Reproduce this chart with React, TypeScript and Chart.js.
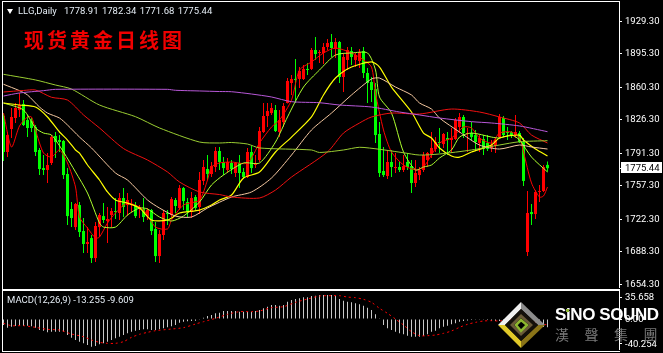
import React, { useEffect, useRef } from "react";
import { Chart, registerables } from "chart.js";

Chart.register(...registerables);

const candleOpen = [
  1830, 1792.4, 1816.4, 1827.9, 1836.3, 1842.6, 1825.8, 1824.8, 1818.5, 1794.5,
  1775.6, 1773.6, 1780.9, 1809.1, 1804.9, 1803.9, 1769.4, 1732.8, 1713.9, 1736.9,
  1709.8, 1696.2, 1702.4, 1681.5, 1713.9, 1725.4, 1720.2, 1726.5, 1730.7, 1728.6,
  1744.3, 1736.9, 1736.9, 1736.9, 1732.8, 1732.8, 1725.4, 1731.7, 1711.9, 1683.6,
  1705.6, 1728.6, 1726.5, 1742.2, 1733.8, 1754.7, 1740.1, 1729.6, 1745.3, 1734.9,
  1762.1, 1774.6, 1769.4, 1776.7, 1793.4, 1781.9, 1773.6, 1780.9, 1770.4, 1780.9,
  1771.5, 1766.2, 1792.4, 1778.8, 1784, 1813.3, 1830, 1833.1, 1836.3, 1813.3,
  1823.7, 1843.6, 1864.5, 1868.7, 1868.7, 1868.7, 1879.2, 1879.2, 1899, 1895.9,
  1895.9, 1902.2, 1907.4, 1900.1, 1907.4, 1870.8, 1888.6, 1898, 1888.6, 1887.5,
  1898, 1875, 1865.6, 1858.2, 1811.2, 1772.5, 1767.3, 1781.9, 1775.6, 1776.7,
  1773.6, 1781.9, 1777.7, 1760, 1768.3, 1773.6, 1784, 1790.3, 1795.5, 1802.8,
  1800.7, 1807, 1804.9, 1806, 1818.5, 1829, 1811.2, 1812.2, 1810.1, 1801.8,
  1806, 1801.8, 1796.6, 1798.6, 1808, 1827.9, 1813.3, 1813.3, 1810.1, 1812.2,
  1802.8, 1687.8, 1729.6, 1727.5, 1750.6, 1751.6, 1778.91,
];
const candleClose = [
  1792.4, 1810.1, 1829, 1838.4, 1841.5, 1820.6, 1817.5, 1817.5, 1792.4, 1774.6,
  1773.6, 1778.8, 1808, 1802.8, 1802.8, 1768.3, 1725.4, 1723.4, 1738, 1708.7,
  1696.2, 1698.3, 1681.5, 1715, 1726.5, 1721.3, 1722.3, 1730.7, 1729.6, 1744.3,
  1734.9, 1742.2, 1738, 1725.4, 1734.9, 1724.4, 1731.7, 1709.8, 1683.6, 1706.6,
  1728.6, 1727.5, 1743.2, 1735.9, 1754.7, 1741.1, 1729.6, 1744.3, 1733.8, 1763.1,
  1776.7, 1769.4, 1777.7, 1793.4, 1781.9, 1775.6, 1781.9, 1774.6, 1780.9, 1770.4,
  1766.2, 1792.4, 1775.6, 1780.9, 1814.3, 1830, 1835.2, 1838.4, 1814.3, 1825.8,
  1840.5, 1866.6, 1868.7, 1867.7, 1877.1, 1879.2, 1878.1, 1899, 1894.8, 1896.9,
  1902.2, 1906.3, 1901.1, 1907.4, 1870.8, 1891.7, 1899, 1891.7, 1893.8, 1896.9,
  1875, 1864.5, 1857.2, 1810.1, 1770.4, 1768.3, 1781.9, 1776.7, 1776.7, 1773.6,
  1777.7, 1776.7, 1760, 1770.4, 1773.6, 1789.2, 1791.3, 1796.6, 1802.8, 1801.8,
  1811.2, 1804.9, 1807, 1825.8, 1829, 1812.2, 1812.2, 1808, 1802.8, 1807,
  1795.5, 1795.5, 1799.7, 1804.9, 1829, 1810.1, 1812.2, 1809.1, 1813.3, 1802.8,
  1762.1, 1728.6, 1727.5, 1750.6, 1751.6, 1776.7, 1775.44,
];
const candleHigh = [
  1833.1, 1813.3, 1838.4, 1843.6, 1854.1, 1846.7, 1831.1, 1827.9, 1820.6, 1796.6,
  1789.2, 1791.3, 1810.1, 1813.3, 1810.1, 1804.9, 1775.6, 1740.1, 1739, 1740.1,
  1723.4, 1713.9, 1705.6, 1719.2, 1728.6, 1739, 1734.9, 1733.8, 1744.3, 1749.5,
  1754.7, 1749.5, 1743.2, 1740.1, 1736.9, 1744.3, 1733.8, 1732.8, 1719.2, 1710.8,
  1731.7, 1731.7, 1745.3, 1744.3, 1757.9, 1755.8, 1744.3, 1750.6, 1747.4, 1771.5,
  1784, 1789.2, 1781.9, 1797.6, 1797.6, 1787.1, 1786.1, 1784, 1781.9, 1789.2,
  1775.6, 1796.6, 1798.6, 1789.2, 1818.5, 1843.6, 1843.6, 1843.6, 1841.5, 1836.3,
  1843.6, 1869.7, 1872.9, 1889.6, 1881.2, 1883.3, 1885.4, 1901.1, 1912.6, 1899,
  1906.3, 1910.5, 1915.7, 1911.6, 1908.4, 1895.9, 1902.2, 1902.2, 1895.9, 1900.1,
  1902.2, 1880.2, 1870.8, 1864.5, 1823.7, 1797.6, 1794.5, 1794.5, 1791.3, 1781.9,
  1789.2, 1791.3, 1784, 1784, 1776.7, 1792.4, 1792.4, 1813.3, 1808, 1817.5,
  1812.2, 1813.3, 1817.5, 1827.9, 1833.1, 1831.1, 1817.5, 1823.7, 1815.4, 1810.1,
  1810.1, 1810.1, 1804.9, 1808, 1832.1, 1830, 1818.5, 1814.3, 1831.1, 1814.3,
  1807, 1751.6, 1738, 1752.6, 1757.9, 1778.8, 1782.34,
];
const candleLow = [
  1783, 1787.1, 1807, 1822.7, 1829, 1819.6, 1808, 1813.3, 1788.2, 1768.3,
  1768.3, 1760, 1778.8, 1786.1, 1792.4, 1764.1, 1716, 1713.9, 1710.8, 1703.5,
  1686.8, 1686.8, 1676.3, 1677.4, 1703.5, 1718.1, 1697.2, 1713.9, 1722.3, 1721.3,
  1724.4, 1725.4, 1729.6, 1723.4, 1723.4, 1719.2, 1721.3, 1705.6, 1677.4, 1676.3,
  1700.4, 1716, 1724.4, 1728.6, 1731.7, 1731.7, 1724.4, 1723.4, 1731.7, 1727.5,
  1757.9, 1763.1, 1766.2, 1771.5, 1773.6, 1768.3, 1770.4, 1769.4, 1766.2, 1754.7,
  1764.1, 1765.2, 1770.4, 1775.6, 1781.9, 1812.2, 1818.5, 1831.1, 1813.3, 1808,
  1818.5, 1843, 1852, 1843.6, 1859.3, 1867.7, 1872.9, 1878.1, 1888.6, 1885.4,
  1884.4, 1899, 1891.7, 1890.7, 1864.5, 1855.1, 1878.1, 1883.3, 1881.2, 1880.2,
  1869.7, 1843.6, 1844.6, 1801.8, 1766.2, 1766.2, 1764.1, 1766.2, 1770.4, 1771.5,
  1771.5, 1773.6, 1749.5, 1755.8, 1763.1, 1771.5, 1776.7, 1786.1, 1792.4, 1791.3,
  1796.6, 1789.2, 1791.3, 1804.9, 1812.2, 1807, 1792.4, 1804.9, 1794.5, 1792.4,
  1789.2, 1793.4, 1792.4, 1791.3, 1807, 1808, 1804.9, 1807, 1807, 1801.8,
  1756.8, 1683.6, 1716, 1722.3, 1740.1, 1750.6, 1771.68,
];

const ma5Index = [0, 2, 4, 6, 7, 8, 10, 12, 14, 16, 18, 19, 21, 23, 24, 26, 28, 31, 35, 38, 41, 42, 45, 49, 51, 52, 54, 57, 61, 64, 67, 69, 72, 74, 77, 80, 83, 87, 90, 92, 93, 95, 97, 100, 103, 105, 107, 109, 112, 115, 117, 119, 122, 124, 127, 129, 130, 132, 134, 135, 136];
const ma5Value = [1833.1, 1797.6, 1819.6, 1829, 1829, 1815.4, 1791.3, 1787.1, 1794.5, 1780.9, 1755.8, 1724.4, 1712.9, 1702.4, 1703.5, 1718.1, 1728.6, 1739, 1731.7, 1713.9, 1711.9, 1721.3, 1736.9, 1742.2, 1763.1, 1776.7, 1780.9, 1781.9, 1780.9, 1801.8, 1818.5, 1825.8, 1846.7, 1878.1, 1886.5, 1895.9, 1901.1, 1895.9, 1888.6, 1881.2, 1854.1, 1815.4, 1792.4, 1778.8, 1773.6, 1776.7, 1789.2, 1801.8, 1807, 1818.5, 1817.5, 1807, 1801.8, 1812.2, 1813.3, 1807, 1792.4, 1760, 1745.3, 1746.4, 1755.8];

const ma10Index = [0, 5, 8, 10, 12, 15, 18, 21, 24, 25, 28, 31, 34, 36, 39, 42, 45, 49, 52, 55, 60, 64, 68, 71, 75, 79, 83, 87, 91, 93, 94, 97, 100, 103, 105, 107, 109, 112, 114, 117, 122, 124, 127, 129, 132, 136];
const ma10Value = [1843.6, 1836.3, 1817.5, 1812.2, 1810.1, 1792.4, 1771.5, 1749.5, 1718.1, 1713.9, 1713.9, 1726.5, 1733.8, 1732.8, 1724.4, 1720.2, 1725.4, 1740.1, 1757.9, 1768.3, 1780.9, 1780.9, 1802.8, 1829, 1860.3, 1878.1, 1893.8, 1895.9, 1895.9, 1878.1, 1849.9, 1833.1, 1792.4, 1773.6, 1776.7, 1778.8, 1786.1, 1794.5, 1808, 1812.2, 1808, 1807, 1810.1, 1804.9, 1787.1, 1771.5];

const ma20Index = [0, 4, 8, 11, 14, 16, 18, 19, 21, 24, 26, 28, 31, 34, 37, 41, 44, 49, 52, 54, 57, 60, 64, 68, 72, 77, 80, 83, 87, 92, 94, 97, 102, 105, 107, 109, 112, 114, 117, 122, 124, 129, 130, 133, 136];
const ma20Value = [1843.6, 1841.5, 1839.4, 1829, 1813.3, 1804.9, 1794.5, 1791.3, 1778.8, 1763.1, 1750.6, 1742.2, 1739, 1733.8, 1721.3, 1721.3, 1728.6, 1731.7, 1736.9, 1742.2, 1747.4, 1765.2, 1771.5, 1792.4, 1808, 1829, 1852, 1869.7, 1881.2, 1886.5, 1881.2, 1860.3, 1834.2, 1812.2, 1807, 1796.6, 1788.2, 1787.1, 1792.4, 1799.7, 1807, 1810.1, 1804.9, 1795.5, 1788.2];

const ma30Index = [0, 4, 6, 9, 11, 14, 16, 19, 22, 28, 31, 36, 39, 43, 47, 51, 57, 62, 67, 72, 77, 82, 87, 92, 94, 98, 102, 104, 107, 109, 114, 119, 124, 129, 132, 136];
const ma30Value = [1863.2, 1856.5, 1852, 1839.4, 1833.1, 1827.9, 1820.6, 1808, 1796.6, 1770.4, 1763.1, 1742.2, 1733.8, 1725.4, 1724.4, 1733.8, 1745.3, 1750.6, 1765.2, 1789.2, 1815.4, 1833.1, 1852, 1868.7, 1869.7, 1860.3, 1852, 1843.6, 1837.3, 1827.9, 1813.3, 1799.7, 1795.5, 1799.7, 1797.6, 1795.5];

const ma60Index = [0, 5, 8, 12, 16, 20, 24, 30, 36, 41, 44, 49, 54, 57, 64, 68, 72, 81, 85, 89, 92, 97, 104, 112, 119, 124, 129, 132, 136];
const ma60Value = [1855.1, 1856.7, 1857.2, 1849.6, 1846.7, 1831.1, 1817.5, 1796, 1784, 1771.5, 1761, 1750.6, 1747.9, 1745.3, 1744.3, 1752.6, 1766.2, 1792.4, 1812.2, 1822.7, 1829, 1833.1, 1832.1, 1837.3, 1834.2, 1829, 1822.7, 1810.1, 1801.8];

const ma120Index = [0, 8, 13, 17, 24, 33, 39, 49, 54, 57, 61, 64, 77, 79, 85, 89, 94, 100, 104, 109, 117, 124, 129, 136];
const ma120Value = [1873.6, 1867.7, 1862.4, 1858.2, 1841.5, 1829.3, 1817.5, 1802.8, 1801.8, 1802.3, 1800.7, 1796.6, 1794.5, 1791.9, 1794.5, 1797.3, 1795.2, 1791.6, 1789.2, 1790.3, 1794.5, 1799.7, 1803.1, 1804.2];

const ma200Index = [0, 4, 10, 13, 41, 43, 49, 54, 57, 62, 67, 72, 79, 84, 92, 99, 104, 109, 117, 122, 129, 136];
const ma200Value = [1850.9, 1854.1, 1856.5, 1857.9, 1857.9, 1856.9, 1856.2, 1855.6, 1855.4, 1853, 1849.9, 1845, 1843.9, 1841.5, 1839.4, 1834.2, 1831.1, 1827.9, 1824.1, 1822.7, 1819.6, 1813.6];

const macdHistogram = [
  -9.7, -14, -12.4, -11.3, -10.8, -11.3, -10.8, -11.9, -14, -17.8,
  -18.9, -21.6, -20.5, -20.5, -20.5, -20.5, -25.9, -30.2, -34, -36.7,
  -39.4, -42.1, -44.8, -43.7, -41, -39.4, -36.7, -34, -31.3, -28.6,
  -25.9, -23.2, -20.5, -18.9, -17.8, -16.7, -16.7, -17.8, -17.8, -16.7,
  -15.1, -13.5, -11.9, -9.7, -5.9, -4.3, -3.8, -3.2, -2.7, -1.1,
  2.2, 4.9, 6.5, 9.2, 10.3, 13, 13, 13, 13, 11.9,
  11.9, 11.9, 11.9, 13, 14.6, 17.3, 20, 22.7, 22.7, 21.6,
  22.7, 28.1, 30.8, 32.4, 33.5, 35.1, 35.1, 37.3, 37.8, 38.9,
  38.9, 38.9, 38.9, 37.8, 32.4, 29.7, 28.1, 27, 25.4, 23.8,
  21.6, 18.4, 14.6, 7.6, 1.1, -9.7, -15.1, -17.8, -20.5, -23.2,
  -24.8, -27, -28.6, -28.6, -28.6, -27.5, -24.8, -20.5, -18.9, -15.1,
  -12.4, -10.8, -8.6, -7, -4.3, -3.2, -2.2, -1.6, -1.1, -1.1,
  -1.1, -1.6, -2.7, -3.2, -3.2, -2.5, -2, -1, 0.5, 1,
  1.5, -4, -8, -11, -13, -13, -13.255,
];
const macdSignalIndex = [0, 2, 5, 8, 11, 14, 17, 20, 22, 24, 26, 28, 30, 32, 34, 36, 38, 42, 45, 48, 50, 53, 56, 59, 62, 64, 67, 70, 73, 76, 79, 81, 84, 86, 88, 90, 92, 94, 96, 98, 100, 102, 104, 106, 108, 110, 112, 114, 116, 118, 120, 122, 124, 130, 134, 136];
const macdSignalValue = [-7, -10.8, -10.8, -13.5, -16.7, -17.8, -24.3, -28.6, -34, -37.8, -39.4, -39.4, -36.7, -29.7, -24.8, -21.6, -18.9, -16.2, -14, -8.1, -4.3, 1.1, 7.6, 11.9, 11.9, 13, 18.4, 20, 27, 32.4, 37.3, 37.8, 37.8, 35.6, 34.6, 31.9, 27, 17.3, 9.2, 0, -9.7, -20.5, -27, -27, -25.9, -23.2, -19.4, -13.5, -8.6, -5.4, -3.2, -2.7, -3.2, 1.1, -7, -9.609];

const priceTicks = [1929.3, 1895.3, 1860.3, 1826.3, 1791.3, 1775.44, 1757.3, 1722.3, 1688.3, 1654.3];
const macdTicks = [35.658, 0, -40.254];
const lastPrice = 1775.44;
const header = "LLG,Daily";
const headerValues = ["1778.91", "1782.34", "1771.68", "1775.44"];

const RED = "#FF0000";
const GREEN = "#00FF00";

const xScale = { type: "linear", display: false, offset: false, min: -0.125, max: 153.875 };
const pairs = (idx: number[], val: number[]) => idx.map((x, i) => ({ x, y: val[i] }));
const line = (idx: number[], val: number[], color: string, width = 1) => ({
  type: "line",
  data: pairs(idx, val),
  borderColor: color,
  borderWidth: width,
  pointRadius: 0,
  tension: 0.25,
  order: 1,
});
const fitAxis = (s: any) => {
  s.width = 44;
  s.paddingTop = 0;
  s.paddingBottom = 0;
};

// Draws the y-axis labels at the value's pixel on the chart's own scale.
const axisLabels = (format: (v: number) => string) => ({
  id: "axisLabels",
  afterDraw(chart: any) {
    const { ctx, scales } = chart;
    const s = scales.y;
    ctx.save();
    ctx.font = "9.5px Roboto";
    ctx.textAlign = "left";
    ctx.textBaseline = "middle";
    for (const t of s.ticks) {
      const y = s.getPixelForValue(t.value);
      if (t.value === lastPrice) {
        ctx.fillStyle = "#FFFFFF";
        ctx.fillRect(621, Math.round(y) - 6, 41, 11);
        ctx.fillStyle = "#000000";
      } else {
        ctx.fillStyle = "#FFFFFF";
      }
      ctx.fillText(format(t.value), 625, y + 0.5);
    }
    ctx.restore();
  },
});

export default function App() {
  const mainRef = useRef<HTMLCanvasElement>(null);
  const macdRef = useRef<HTMLCanvasElement>(null);

  useEffect(() => {
    const colors = candleOpen.map((o, i) => (candleClose[i] >= o ? RED : GREEN));
    const main = new Chart(mainRef.current as any, {
      plugins: [axisLabels((v) => v.toFixed(2))],
      data: {
        datasets: [
          {
            type: "bar",
            data: candleHigh.map((h, i) => ({ x: i, y: [candleLow[i], h] })),
            backgroundColor: colors,
            barThickness: 1,
            inflateAmount: 0,
            grouped: false,
            order: 3,
          },
          {
            type: "bar",
            data: candleOpen.map((o, i) => ({ x: i, y: [o, candleClose[i]] })),
            backgroundColor: colors,
            barThickness: 3,
            inflateAmount: 0,
            minBarLength: 1,
            grouped: false,
            order: 2,
          },
          line(ma200Index, ma200Value, "#B858D8"),
          line(ma120Index, ma120Value, "#9ACD32"),
          line(ma60Index, ma60Value, "#F01010"),
          line(ma30Index, ma30Value, "#F5C8A0"),
          line(ma20Index, ma20Value, "#FFFF00", 1.2),
          line(ma10Index, ma10Value, "#ADFF2F"),
          line(ma5Index, ma5Value, "#FF0000"),
        ],
      } as any,
      options: {
        responsive: false,
        animation: false,
        events: [],
        layout: { padding: { left: 3, top: 2, right: 0, bottom: 0 } },
        plugins: { legend: { display: false }, tooltip: { enabled: false }, title: { display: false } },
        scales: {
          x: xScale,
          y: {
            position: "right",
            min: 1650.2,
            max: 1949.2,
            afterBuildTicks: (s: any) => {
              s.ticks = priceTicks.map((value) => ({ value }));
            },
            afterFit: fitAxis,
            border: { color: "#FFFFFF", width: 1 },
            grid: { drawOnChartArea: false, color: "#FFFFFF", tickLength: 3 },
            ticks: { autoSkip: false, maxRotation: 0, padding: 3, font: { family: "Roboto", size: 9.5 }, color: "rgba(0,0,0,0)" },
          },
        },
      } as any,
    });

    const macd = new Chart(macdRef.current as any, {
      plugins: [axisLabels((v) => (v === 0 ? "0.00" : String(v)))],
      data: {
        datasets: [
          {
            type: "bar",
            data: macdHistogram.map((v, i) => ({ x: i, y: v })),
            backgroundColor: "#C8C8C8",
            barThickness: 1,
            inflateAmount: 0,
            order: 2,
          },
          {
            type: "line",
            data: pairs(macdSignalIndex, macdSignalValue),
            borderColor: RED,
            borderWidth: 1,
            borderDash: [2, 3],
            pointRadius: 0,
            tension: 0.25,
            order: 1,
          },
        ],
      } as any,
      options: {
        responsive: false,
        animation: false,
        events: [],
        layout: { padding: { left: 3, top: 1, right: 0, bottom: 0 } },
        plugins: { legend: { display: false }, tooltip: { enabled: false }, title: { display: false } },
        scales: {
          x: xScale,
          y: {
            position: "right",
            min: -50.2,
            max: 45.4,
            afterBuildTicks: (s: any) => {
              s.ticks = macdTicks.map((value) => ({ value }));
            },
            afterFit: fitAxis,
            border: { color: "#FFFFFF", width: 1 },
            grid: { drawOnChartArea: false, color: "#FFFFFF", tickLength: 3 },
            ticks: { autoSkip: false, maxRotation: 0, padding: 2, font: { family: "Roboto", size: 9.5 }, color: "rgba(0,0,0,0)" },
          },
        },
      } as any,
    });

    return () => {
      main.destroy();
      macd.destroy();
    };
  }, []);

  const abs = (left: number, top: number): React.CSSProperties => ({ position: "absolute", left, top });
  const small = "9.5px/14px Roboto";
  return (
    <div style={{ position: "fixed", left: 0, top: 0, width: 663, height: 353, background: "#000", overflow: "hidden" }}>
      <canvas ref={mainRef} width={663} height={288} style={{ ...abs(0, 0), display: "block" }} />
      <canvas ref={macdRef} width={663} height={60} style={{ ...abs(0, 290), display: "block" }} />
      <div style={{ ...abs(2, 1), width: 617, height: 287, borderLeft: "1px solid #fff", borderTop: "1px solid #fff", borderBottom: "1px solid #fff" }} />
      <div style={{ ...abs(2, 290), width: 617, height: 60, borderLeft: "1px solid #fff", borderTop: "1px solid #fff", borderBottom: "1px solid #fff" }} />

      <div style={{ ...abs(7, 9), width: 0, height: 0, borderLeft: "3.5px solid transparent", borderRight: "3.5px solid transparent", borderTop: "5px solid #fff" }} />
      <div style={{ ...abs(18, 4), font: small, color: "#E4ECF4", whiteSpace: "pre" }}>{header}</div>
      <div style={{ ...abs(64, 4), font: small, wordSpacing: 1, color: "#E4ECF4", whiteSpace: "pre" }}>{headerValues.join(" ")}</div>
      <div style={{ ...abs(24, 28), font: "bold 20px/24px 'Noto Sans CJK SC'", letterSpacing: 3, color: "#F00000", whiteSpace: "pre" }}>现货黄金日线图</div>
      <div style={{ ...abs(7, 293), font: small, color: "#E4ECF4", whiteSpace: "pre" }}>MACD(12,26,9) -13.255 -9.609</div>

      <svg width={663} height={353} style={abs(0, 0)}>
        <polygon points="498,325 521,302 521,309 505,325" fill="#F0F0F0" />
        <polygon points="521,302 545,325 538,325 521,309" fill="#8C8C8C" />
        <polygon points="498,325 505,325 521,341 521,348" fill="#E0C828" />
        <polygon points="545,325 521,348 521,341 538,325" fill="#8A7418" />
        <polygon points="505,325 521,309 538,325 521,341" fill="#14100A" />
        <polygon points="510,325 521,314 533,325 521,336" fill="#6A5A38" />
        <polygon points="514,325 521,318 529,325 521,332" fill="#000" />
        <polygon points="516,325 521,320 527,325 521,331" fill="none" stroke="#8DB62F" strokeWidth={2.5} />
      </svg>
      <div style={{ ...abs(555, 305), font: "bold 17px/20px 'Liberation Sans'", letterSpacing: -0.4, color: "#fff", whiteSpace: "pre" }}>SiNO SOUND</div>
      <div style={{ ...abs(566, 309), width: 3, height: 3, background: "#8DB62F" }} />
      <div style={{ ...abs(555, 324), font: "14px/20px 'Noto Sans CJK TC'", letterSpacing: 15.5, color: "#787878", whiteSpace: "pre" }}>漢聲集團</div>
    </div>
  );
}
